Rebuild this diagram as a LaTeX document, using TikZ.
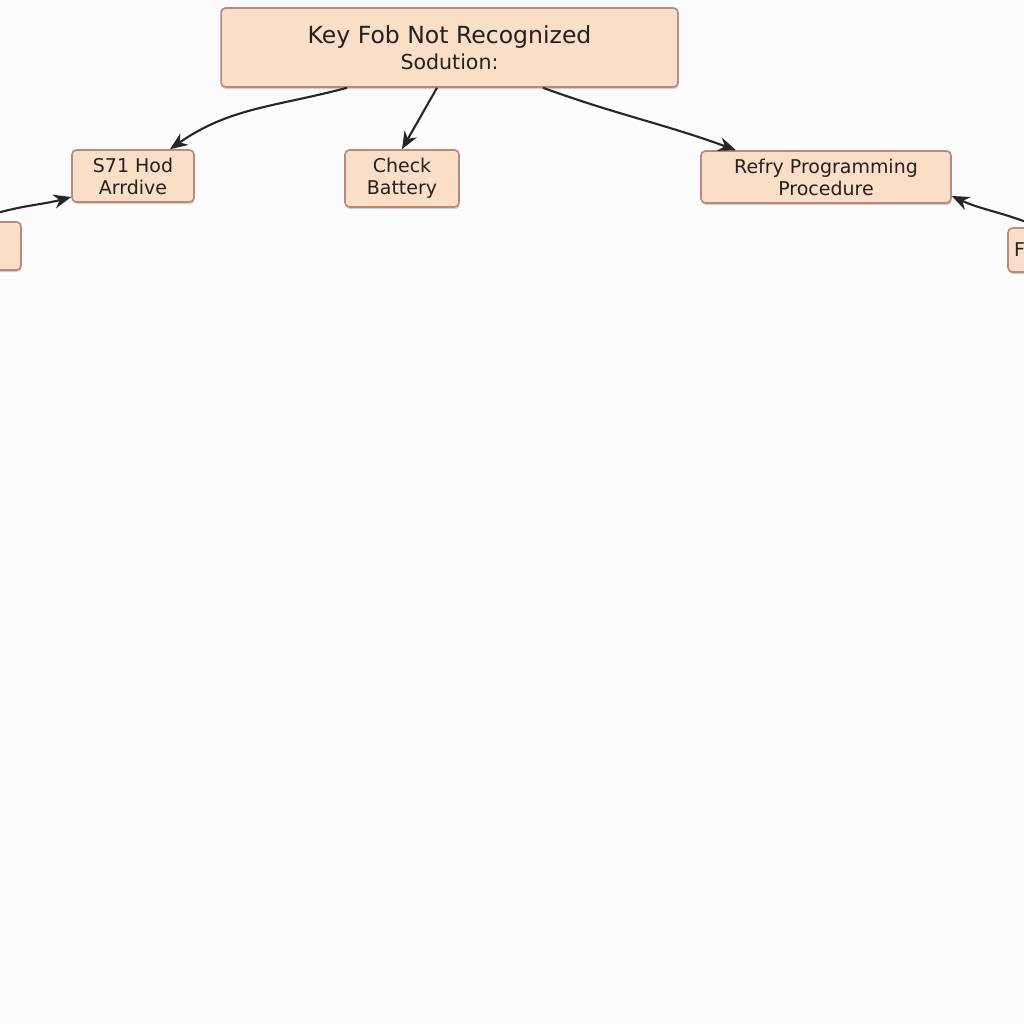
\documentclass[tikz,border=0pt]{standalone}
\usepackage{fontspec}
\setmainfont{DejaVu Sans}
\usepackage{tikz}
\usetikzlibrary{arrows.meta}
\usetikzlibrary{shadows}
\definecolor{boxfill}{RGB}{249,222,200}
\definecolor{boxdraw}{RGB}{186,136,126}
\definecolor{boxtext}{RGB}{40,32,28}
\definecolor{paper}{RGB}{252,252,252}
\tikzset{
box/.style={
  rectangle,rounded corners=2.5pt,
  draw=boxdraw,line width=0.9pt,fill=boxfill,
  drop shadow={shadow xshift=0.4pt,shadow yshift=-1.2pt,opacity=0.35},
  align=center,inner sep=0pt,text=boxtext,
  font=\fontsize{10.8}{12.5}\selectfont
},
link/.style={
  draw=black!85,line width=1.2pt,
  -{Stealth[length=10pt,width=8pt]}
},
%top/.style={font=\fontsize{12}{14}\selectfont},
}

\begin{document}
\begin{tikzpicture}[x=0.02cm,y=-0.02cm]
\fill[paper] (0,0) rectangle (1024,1024);
\useasboundingbox (0,0) rectangle (1024,1024);
\begin{scope}
\clip (0,0) rectangle (1024,1024);
\node (fob) [box,minimum width=9.14cm,minimum height=1.58cm,
  font=\fontsize{13.4}{14.6}\selectfont] at (449.5,47.5)
  {Key Fob Not Recognized\\{\fontsize{11.7}{12}\selectfont Sodution:}};
\node (hod) [box,minimum width=2.44cm,minimum height=1.04cm] at (133,176)
  {S71 Hod\\Arrdive};
\node (battery) [box,minimum width=2.28cm,minimum height=1.14cm] at (402,178.5)
  {Check\\Battery};
\node (retry) [box,minimum width=5cm,minimum height=1.04cm] at (826,177)
  {Refry Programming\\Procedure};
\node (leftbox) [box,minimum width=1.24cm,minimum height=0.96cm] at (-10,246) {};
\node (rightbox) [box,minimum width=1.44cm,minimum height=0.88cm,
  text width=1.3cm,align=left] at (1044,250) {\hspace{0.5mm}F};
% the arrows
\draw[link] ([xshift=-2.05cm]fob.south) to[out=195,in=35] ([xshift=0.74cm]hod.north);
\draw[link] ([xshift=-0.25cm]fob.south) -- (battery.north);
\draw[link] ([xshift=1.87cm]fob.south) to[out=-20,in=160] ([xshift=-1.8cm]retry.north);
\draw[link] ([xshift=0.2cm,yshift=0.18cm]leftbox.north) to[out=15,in=195] ([yshift=-0.42cm]hod.west);
\draw[link] ([xshift=-0.4cm,yshift=0.12cm]rightbox.north) to[out=160,in=-25] ([yshift=-0.38cm]retry.east);
\end{scope}
\end{tikzpicture}
\end{document}
